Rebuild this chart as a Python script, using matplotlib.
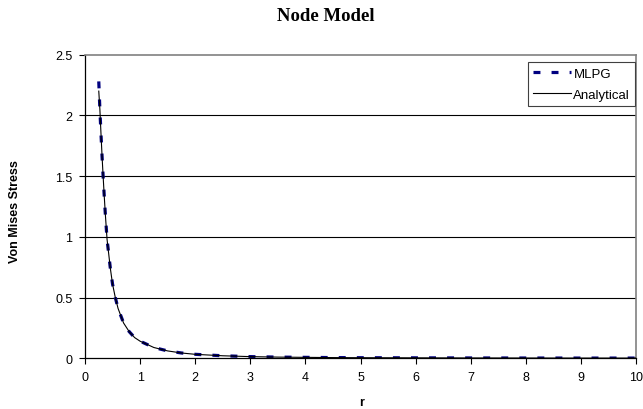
import matplotlib
matplotlib.use("Agg")
import matplotlib.pyplot as plt

# Data
r_values = [0.25, 0.27, 0.29, 0.31, 0.33, 0.35, 0.37, 0.40, 0.43, 0.46, 0.50, 0.55,
            0.60, 0.70, 0.80, 0.90, 1.0, 1.25, 1.5, 1.75, 2.0, 2.5, 3.0, 3.5, 4.0,
            4.5, 5.0, 6.0, 7.0, 8.0, 9.0, 10.0]
mlpg = [2.28, 2.05, 1.85, 1.66, 1.49, 1.33, 1.18, 0.98, 0.86, 0.74, 0.61, 0.50,
        0.41, 0.29, 0.22, 0.17, 0.14, 0.088, 0.060, 0.043, 0.032, 0.020, 0.013,
        0.009, 0.007, 0.005, 0.004, 0.003, 0.002, 0.0015, 0.001, 0.001]
analytical = [2.20, 2.05, 1.85, 1.66, 1.49, 1.33, 1.18, 0.98, 0.86, 0.74, 0.61, 0.50,
              0.41, 0.29, 0.22, 0.17, 0.14, 0.088, 0.060, 0.043, 0.032, 0.020, 0.013,
              0.009, 0.007, 0.005, 0.004, 0.003, 0.002, 0.0015, 0.001, 0.001]
x_ticks = [0, 1, 2, 3, 4, 5, 6, 7, 8, 9, 10]
y_ticks = [0, 0.5, 1, 1.5, 2, 2.5]
y_tick_labels = ["0", "0.5", "1", "1.5", "2", "2.5"]

plt.rcParams['font.family'] = ['Liberation Sans', 'DejaVu Sans']
plt.rcParams['lines.scale_dashes'] = False

fig = plt.figure(figsize=(6.43, 4.10), dpi=100)
ax = fig.add_axes([85/643, 1 - 359.2/410, (636 - 85)/643, (359.2 - 55.7)/410])

for y in y_ticks[1:-1]:
    ax.axhline(y, color='black', lw=0.8, zorder=1)

ax.plot(r_values, mlpg, color='#000080', lw=2.3, dashes=(5, 8),
        solid_capstyle='butt', dash_capstyle='butt', label='MLPG', zorder=2)
ax.plot(r_values, analytical, color='black', lw=0.8, label='Analytical', zorder=3)

ax.set_xlim(0, 10)
ax.set_ylim(0, 2.5)
ax.set_xticks(x_ticks)
ax.set_xticklabels([str(t) for t in x_ticks])
ax.set_yticks(y_ticks)
ax.set_yticklabels(y_tick_labels)
ax.tick_params(direction='out', length=4, width=0.8, labelsize=9, pad=5, colors='black')

for side in ['left', 'bottom']:
    ax.spines[side].set_color('black')
    ax.spines[side].set_linewidth(0.9)
for side in ['right', 'top']:
    ax.spines[side].set_color('#808080')
    ax.spines[side].set_linewidth(1.2)

fig.text(326/643, 1 - 16.5/410, 'Node Model', ha='center', va='center',
         fontsize=13.5, fontweight='bold', family=['Liberation Serif', 'DejaVu Serif'])
fig.text(15/643, 1 - 212/410, 'Von Mises Stress', rotation=90, ha='center', va='center',
         fontsize=9, fontweight='bold')
fig.text(362/643, 1 - 403/410, 'r', ha='center', va='center', fontsize=9, fontweight='bold')

leg = ax.legend(loc='upper right', bbox_to_anchor=(0.999, 0.975), fontsize=9.5,
                frameon=True, fancybox=False, edgecolor='#404040', framealpha=1,
                handlelength=2.9, handletextpad=0.15, borderpad=0.4, labelspacing=0.65,
                borderaxespad=0)
leg.get_frame().set_linewidth(0.8)

fig.savefig('out.png', dpi=100)
